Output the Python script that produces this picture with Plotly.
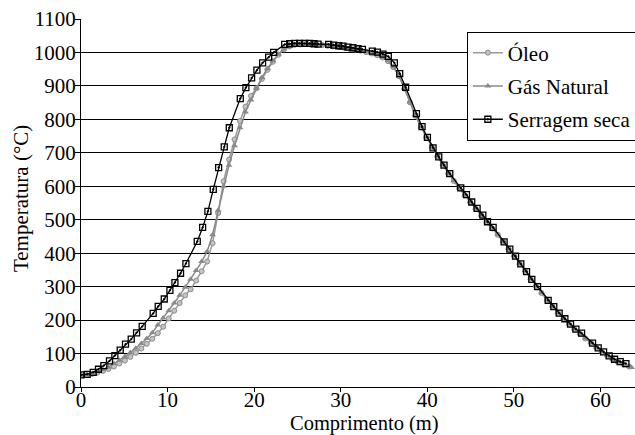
import plotly.graph_objects as go

# ---- data ----
serragem_x = [0.0, 0.71, 1.41, 2.02, 2.64, 3.29, 3.91, 4.53, 5.14, 5.8, 6.42, 7.07, 8.34, 8.92, 9.62,
              10.27, 10.85, 11.5, 12.12, 13.43, 14.05, 14.66, 15.28, 15.9, 16.55, 17.13, 18.4, 19.05,
              19.71, 20.32, 20.98, 21.68, 22.25, 23.53, 24.1, 24.68, 25.26, 25.84, 26.42, 26.92, 27.38,
              28.61, 29.19, 29.77, 30.27, 30.84, 31.42, 32.0, 32.51, 33.66, 34.24, 34.89, 35.5, 36.2,
              36.82, 37.5, 38.75, 39.4, 40.02, 40.67, 41.33, 41.94, 42.6, 43.87, 44.53, 45.14, 45.76,
              46.42, 46.96, 47.61, 48.88, 49.54, 50.2, 50.81, 51.47, 52.08, 52.74, 53.97, 54.62, 55.24,
              55.9, 56.55, 57.17, 57.83, 59.1, 59.75, 60.37, 61.02, 61.64, 62.29, 62.95]
serragem_t = [36, 38, 44, 53, 64, 78, 94, 110, 128, 143, 162, 181, 220, 241, 263,
              289, 312, 340, 369, 435, 477, 525, 591, 656, 718, 775, 862, 895,
              924, 947, 969, 986, 1000, 1024, 1026, 1027, 1027, 1027, 1027, 1026, 1025,
              1024, 1022, 1020, 1019, 1016, 1014, 1011, 1009, 1004, 1001, 995, 988, 969,
              937, 896, 817, 778, 746, 715, 688, 663, 638, 595, 575, 553, 534,
              514, 494, 477, 434, 412, 391, 368, 345, 322, 300, 259, 240, 221,
              204, 188, 173, 161, 131, 117, 105, 93, 83, 76, 70]

gray_x = [0.0, 0.63, 1.27, 1.9, 2.54, 3.17, 3.8, 4.44, 5.07, 5.7, 6.34, 6.97, 7.6, 8.24, 8.87,
          9.5, 10.14, 10.77, 11.4, 12.04, 12.67, 13.3, 13.94, 14.57, 15.2, 15.84, 16.47, 17.1,
          17.74, 18.37, 19.0, 19.64, 20.27, 20.9, 21.54, 22.17, 22.8, 23.44, 24.07, 24.7, 25.34,
          25.97, 26.6, 27.24, 27.87, 28.5, 29.14, 29.77, 30.4, 31.04, 31.67, 32.3, 32.94, 33.57,
          34.2, 34.84, 35.47, 36.1, 36.74, 37.37, 38.0, 38.64, 39.27, 39.9, 40.54, 41.17, 41.8,
          42.44, 43.07, 43.7, 44.34, 44.97, 45.6, 46.24, 46.87, 47.5, 48.14, 48.77, 49.4, 50.04,
          50.67, 51.3, 51.94, 52.57, 53.2, 53.84, 54.47, 55.1, 55.74, 56.37, 57.0, 57.64, 58.27,
          58.9, 59.54, 60.17, 60.8, 61.44, 62.07, 62.7, 63.33]

oleo_t = [35, 36, 39, 43, 48, 54, 61, 70, 79, 90, 102, 115, 129, 144, 161,
          180, 205, 228, 251, 274, 292, 318, 346, 375, 430, 520, 615, 680,
          740, 795, 838, 870, 893, 921, 948, 972, 993, 1009, 1018, 1023, 1024,
          1025, 1024, 1023, 1022, 1020, 1018, 1016, 1014, 1011, 1008, 1005, 1001, 997,
          992, 985, 974, 956, 929, 892, 851, 811, 777, 747, 717, 690, 664,
          639, 616, 594, 573, 553, 533, 513, 493, 474, 455, 435, 414, 392,
          369, 347, 324, 302, 281, 260, 241, 222, 204, 188, 173, 159, 145,
          132, 118, 105, 93, 82, 74, 67, 61]

gas_x = gray_x + [63.6]
gas_t = [35, 37, 41, 46, 52, 59, 70, 80, 91, 103, 116, 130, 145, 162, 185,
         206, 228, 251, 274, 298, 322, 348, 375, 405, 455, 528, 600, 663,
         721, 775, 822, 858, 893, 925, 952, 975, 995, 1010, 1019, 1024, 1025,
         1025, 1025, 1024, 1022, 1021, 1019, 1017, 1015, 1012, 1009, 1006, 1002, 998,
         993, 986, 975, 957, 930, 893, 852, 812, 778, 748, 718, 691, 665,
         640, 617, 595, 574, 554, 534, 514, 494, 475, 456, 436, 415, 393,
         370, 348, 325, 303, 282, 261, 242, 223, 205, 189, 174, 160, 146,
         133, 119, 106, 94, 83, 75, 68, 62, 58]

x_ticks = [0, 10, 20, 30, 40, 50, 60]
y_ticks = list(range(0, 1101, 100))

FONT = "Times New Roman, Liberation Serif, DejaVu Serif, serif"
FS = 21

fig = go.Figure()
fig.add_trace(go.Scatter(
    x=gray_x, y=oleo_t, name="Óleo", mode="lines+markers", legendgroup="a",
    line=dict(color="#9a9a9a", width=1.5),
    marker=dict(symbol="circle", size=5, color="#c4c4c4", line=dict(color="#8c8c8c", width=1)),
))
fig.add_trace(go.Scatter(
    x=gas_x, y=gas_t, name="Gás Natural", mode="lines+markers", legendgroup="b",
    line=dict(color="#888888", width=1.5),
    marker=dict(symbol="triangle-up", size=6, color="#8a8a8a"),
))
fig.add_trace(go.Scatter(
    x=serragem_x, y=serragem_t, name="Serragem seca", mode="lines+markers", legendgroup="c",
    line=dict(color="#000000", width=1.3),
    marker=dict(symbol="square-open-dot", size=6, color="#000000", line=dict(width=1.3)),
))

fig.update_layout(
    width=635, height=435,
    margin=dict(l=81, r=0, t=19, b=48, autoexpand=False),
    paper_bgcolor="white", plot_bgcolor="white",
    font=dict(family=FONT, size=FS, color="black"),
    showlegend=True,
    legend=dict(
        x=0.6965, y=0.966, xanchor="left", yanchor="top",
        bgcolor="white", bordercolor="black", borderwidth=1,
        font=dict(family=FONT, size=FS, color="black"),
        itemwidth=30, tracegroupgap=3,
    ),
    annotations=[
        dict(text="Comprimento (m)", xref="paper", yref="paper", x=0.511, y=-0.099,
             xanchor="center", yanchor="middle", showarrow=False, borderpad=0,
             font=dict(family=FONT, size=20.5, color="black")),
        dict(text="Temperatura (°C)", xref="paper", yref="paper", x=-0.108, y=0.511,
             xanchor="center", yanchor="middle", showarrow=False, textangle=-90,
             font=dict(family=FONT, size=FS, color="black")),
    ],
)
fig.update_xaxes(
    range=[0, 64], tickvals=x_ticks, ticktext=[str(v) for v in x_ticks],
    showgrid=False, zeroline=False, automargin=False,
    showline=True, linecolor="black", linewidth=1,
    ticks="outside", ticklen=4, tickcolor="black", ticklabelstandoff=-10,
    tickfont=dict(family=FONT, size=FS),
)
fig.update_yaxes(
    range=[0, 1100], tickvals=y_ticks, ticktext=[str(v) for v in y_ticks],
    showgrid=True, gridcolor="black", gridwidth=1, zeroline=False, automargin=False,
    showline=True, linecolor="black", linewidth=1,
    ticks="outside", ticklen=5, tickcolor="black", ticklabelstandoff=-5,
    tickfont=dict(family=FONT, size=FS),
)

fig.write_html(
    "out.html",
    config={"displayModeBar": False},
    post_script="document.body.style.margin='0px';document.body.style.padding='0px';",
)
